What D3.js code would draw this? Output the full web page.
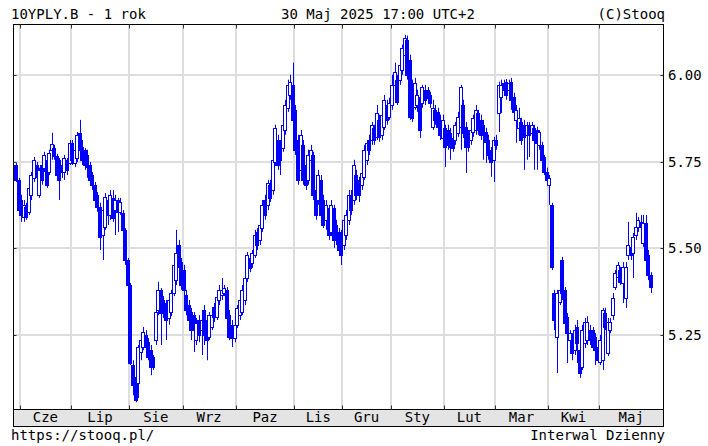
<!DOCTYPE html>
<html><head><meta charset="utf-8">
<script src="https://cdn.jsdelivr.net/npm/d3@7"></script>
<style>
html,body{margin:0;padding:0;background:#fff;}
svg{display:block;}
text{font-family:"DejaVu Sans Mono",monospace;font-size:14px;fill:#000;}
</style>
</head><body>
<svg id="c" width="708" height="446"></svg>
<script>
// ---- data ----
const titleLeft = "10YPLY.B - 1 rok";
const titleCenter = "30 Maj 2025 17:00 UTC+2";
const titleRight = "(C)Stooq";
const footerLeft = "https://stooq.pl/";
const footerRight = "Interwal Dzienny";
const monthNames = ["Sty","Lut","Mar","Kwi","Maj","Cze","Lip","Sie","Wrz","Paz","Lis","Gru"];
const yTicks = [5.25, 5.50, 5.75, 6.00];
const startDate = "2024-05-29";
const endDate = "2025-05-30";
const holidays = ["2024-05-30","2024-08-15","2024-11-01","2024-11-11","2024-12-24","2024-12-25","2024-12-26","2025-01-01","2025-01-06","2025-04-18","2025-04-21","2025-05-01"];

const open = [5.740,5.697,5.639,5.590,5.619,5.605,5.654,5.703,5.740,5.654,5.740,5.732,5.755,5.720,5.784,5.789,5.766,5.755,5.740,5.720,5.755,5.746,
5.804,5.746,5.760,5.833,5.792,5.784,5.769,5.740,5.711,5.683,5.654,5.619,5.538,5.561,5.639,5.596,5.645,5.610,5.639,5.605,5.602,5.553,5.466,
5.394,5.163,5.128,5.111,5.201,5.215,5.250,5.229,5.206,5.186,5.235,5.322,5.380,5.351,5.342,5.299,5.316,5.371,5.408,5.509,5.460,
5.437,5.365,5.336,5.316,5.307,5.235,5.293,5.264,5.322,5.293,5.244,5.273,5.330,5.302,5.351,5.365,5.371,5.380,5.307,5.279,5.241,
5.279,5.307,5.316,5.351,5.414,5.472,5.457,5.481,5.547,5.524,5.558,5.639,5.625,5.683,5.668,5.749,5.812,5.798,5.789,5.841,5.905,5.942,5.971,
5.899,5.812,5.726,5.798,5.740,5.697,5.755,5.769,5.668,5.639,5.697,5.639,5.582,5.616,5.547,5.616,5.567,5.547,5.538,
5.509,5.538,5.582,5.654,5.639,5.711,5.697,5.683,5.706,5.755,5.812,5.812,5.847,5.821,5.870,5.827,5.850,5.913,5.879,
5.913,5.971,5.986,5.986,6.014,6.058,6.101,6.043,5.971,5.908,5.913,5.937,5.919,5.957,5.957,5.942,5.850,5.899,5.893,5.870,5.818,
5.847,5.841,5.833,5.818,5.812,5.833,5.850,5.913,5.850,5.833,5.812,5.835,5.841,5.890,5.870,5.856,5.835,5.812,5.784,5.755,
5.812,5.890,5.937,5.977,5.980,5.957,5.980,5.937,5.870,5.847,5.864,5.856,5.827,5.856,5.833,5.847,5.841,5.798,5.798,5.763,5.720,
5.683,5.625,5.371,5.244,5.345,5.466,5.380,5.302,5.235,5.235,5.206,5.273,5.206,5.157,5.227,5.235,5.264,5.264,5.244,5.215,
5.172,5.177,5.313,5.198,5.264,5.307,5.388,5.417,5.437,5.400,5.356,5.481,5.504,5.486,5.538,5.561,5.576,5.515,5.573,5.481,5.423];

const high = [5.746,5.703,5.654,5.639,5.631,5.683,5.720,5.763,5.749,5.732,5.755,5.778,5.769,5.784,5.833,5.798,5.772,5.760,5.749,5.769,5.760,5.812,
5.812,5.789,5.835,5.870,5.812,5.789,5.784,5.749,5.720,5.691,5.662,5.631,5.625,5.659,5.654,5.668,5.668,5.654,5.645,5.645,5.610,5.558,5.472,
5.400,5.177,5.134,5.221,5.250,5.273,5.264,5.241,5.221,5.192,5.322,5.403,5.385,5.362,5.351,5.362,5.380,5.460,5.553,5.524,5.472,
5.452,5.380,5.351,5.328,5.316,5.299,5.307,5.299,5.336,5.307,5.316,5.322,5.342,5.371,5.394,5.414,5.394,5.388,5.322,5.293,5.293,
5.336,5.359,5.394,5.423,5.489,5.481,5.495,5.553,5.558,5.582,5.639,5.654,5.697,5.697,5.763,5.856,5.827,5.812,5.870,5.928,5.986,6.000,6.035,
5.913,5.827,5.841,5.812,5.755,5.784,5.798,5.778,5.683,5.726,5.711,5.654,5.639,5.625,5.639,5.625,5.582,5.558,5.553,
5.596,5.610,5.668,5.668,5.755,5.726,5.706,5.726,5.798,5.812,5.827,5.864,5.856,5.913,5.885,5.899,5.942,5.928,5.934,
6.000,6.035,6.000,6.043,6.087,6.115,6.113,6.058,5.986,5.991,5.957,5.945,5.971,5.971,5.965,5.951,5.928,5.913,5.905,5.885,5.885,
5.856,5.856,5.847,5.827,5.864,5.893,5.971,5.928,5.864,5.841,5.856,5.885,5.913,5.899,5.885,5.870,5.847,5.827,5.792,5.821,
5.827,5.980,5.986,5.986,5.988,5.986,5.991,5.948,5.913,5.905,5.876,5.870,5.864,5.864,5.864,5.856,5.850,5.841,5.807,5.769,5.732,
5.711,5.631,5.380,5.380,5.388,5.475,5.388,5.313,5.264,5.255,5.279,5.293,5.221,5.279,5.299,5.304,5.279,5.273,5.255,5.227,
5.250,5.328,5.328,5.299,5.299,5.371,5.437,5.460,5.446,5.460,5.460,5.576,5.515,5.544,5.602,5.590,5.596,5.596,5.596,5.495,5.431];

const low = [5.691,5.596,5.576,5.576,5.582,5.596,5.639,5.691,5.654,5.645,5.683,5.720,5.674,5.711,5.755,5.755,5.697,5.639,5.703,5.697,5.711,5.740,
5.740,5.734,5.749,5.769,5.740,5.726,5.703,5.683,5.668,5.625,5.605,5.495,5.466,5.553,5.567,5.582,5.576,5.538,5.547,5.596,5.538,5.452,5.380,
5.163,5.076,5.056,5.068,5.177,5.206,5.201,5.177,5.134,5.149,5.221,5.307,5.221,5.299,5.235,5.279,5.304,5.362,5.394,5.431,5.380,
5.365,5.307,5.279,5.235,5.201,5.221,5.229,5.192,5.221,5.177,5.235,5.264,5.287,5.293,5.336,5.351,5.362,5.287,5.235,5.215,5.229,
5.270,5.293,5.307,5.336,5.403,5.431,5.443,5.472,5.495,5.509,5.547,5.582,5.610,5.633,5.654,5.737,5.726,5.711,5.778,5.827,5.893,5.928,5.856,
5.769,5.683,5.711,5.683,5.668,5.683,5.740,5.639,5.582,5.625,5.582,5.558,5.553,5.524,5.535,5.501,5.509,5.481,5.452,
5.495,5.524,5.567,5.596,5.625,5.639,5.633,5.668,5.697,5.740,5.769,5.798,5.798,5.812,5.807,5.812,5.841,5.856,5.870,
5.899,5.957,5.913,5.971,6.000,6.043,5.986,5.870,5.864,5.899,5.893,5.818,5.905,5.913,5.922,5.905,5.841,5.856,5.835,5.812,5.807,
5.734,5.784,5.755,5.778,5.798,5.821,5.784,5.818,5.717,5.778,5.798,5.821,5.827,5.827,5.812,5.755,5.746,5.755,5.706,5.691,
5.784,5.835,5.890,5.942,5.928,5.942,5.899,5.885,5.804,5.827,5.798,5.726,5.755,5.763,5.821,5.726,5.726,5.784,5.746,5.711,5.683,
5.625,5.437,5.264,5.140,5.336,5.351,5.264,5.169,5.206,5.177,5.192,5.169,5.126,5.149,5.212,5.221,5.221,5.206,5.163,5.169,
5.163,5.149,5.264,5.189,5.255,5.293,5.380,5.408,5.394,5.342,5.328,5.466,5.466,5.414,5.524,5.547,5.553,5.504,5.429,5.408,5.371];

const close = [5.697,5.610,5.596,5.625,5.590,5.674,5.711,5.755,5.706,5.726,5.697,5.769,5.683,5.775,5.801,5.766,5.711,5.697,5.720,5.760,5.726,5.804,
5.755,5.784,5.827,5.784,5.755,5.740,5.734,5.697,5.683,5.639,5.619,5.532,5.610,5.648,5.596,5.654,5.587,5.639,5.605,5.633,5.553,5.466,5.394,
5.169,5.105,5.062,5.215,5.235,5.258,5.215,5.186,5.157,5.157,5.316,5.380,5.313,5.316,5.293,5.351,5.371,5.452,5.486,5.446,5.394,
5.380,5.322,5.293,5.264,5.264,5.284,5.250,5.293,5.250,5.235,5.307,5.307,5.302,5.359,5.380,5.380,5.385,5.299,5.244,5.241,5.279,
5.328,5.351,5.380,5.414,5.481,5.443,5.486,5.538,5.509,5.567,5.625,5.596,5.688,5.645,5.755,5.847,5.740,5.755,5.856,5.913,5.971,5.980,5.870,
5.784,5.697,5.827,5.697,5.683,5.769,5.784,5.654,5.596,5.711,5.596,5.567,5.625,5.538,5.625,5.524,5.524,5.495,5.481,
5.582,5.596,5.654,5.610,5.740,5.654,5.654,5.717,5.784,5.804,5.784,5.856,5.812,5.890,5.821,5.885,5.928,5.870,5.919,
5.971,6.009,5.922,6.029,6.078,6.107,6.000,5.879,5.876,5.977,5.942,5.841,5.965,5.928,5.934,5.919,5.905,5.870,5.850,5.827,5.870,
5.792,5.798,5.792,5.789,5.856,5.879,5.965,5.833,5.792,5.792,5.841,5.876,5.899,5.841,5.827,5.833,5.807,5.769,5.749,5.812,
5.798,5.971,5.971,5.957,5.942,5.977,5.928,5.893,5.899,5.876,5.812,5.821,5.856,5.827,5.856,5.812,5.804,5.835,5.755,5.720,5.697,
5.703,5.446,5.293,5.371,5.380,5.371,5.284,5.255,5.255,5.198,5.264,5.227,5.140,5.264,5.287,5.287,5.235,5.215,5.206,5.177,
5.235,5.322,5.273,5.287,5.287,5.356,5.429,5.452,5.403,5.446,5.446,5.509,5.481,5.532,5.561,5.582,5.561,5.573,5.466,5.423,5.388];

// ---- trading days (categories) ----
const parse = d3.utcParse("%Y-%m-%d"), fmt = d3.utcFormat("%Y-%m-%d");
const hol = new Set(holidays);
const dates = d3.utcDay.range(parse(startDate), d3.utcDay.offset(parse(endDate), 1))
  .filter(d => d.getUTCDay() !== 0 && d.getUTCDay() !== 6 && !hol.has(fmt(d)));
const data = dates.map((d, i) => ({d, i, o: open[i], h: high[i], l: low[i], c: close[i]}));

// ---- layout ----
const L = 13.5, R = 663.5, T = 24.5, B = 409.5, BB = 426.5;
const svg = d3.select("#c");
const x = d3.scaleLinear().domain([-1.063, 254.94]).range([L, R]);
const y = d3.scaleLinear().domain([5.035, 6.145]).range([B, T]);
const blue = "#0000ff";

// band below the plot
svg.append("rect").attr("x", L).attr("y", B).attr("width", R - L).attr("height", BB - B)
  .attr("fill", "#e4e4e4").attr("stroke", "#000").attr("stroke-width", 1);

// month boundaries
const monthStarts = [];
data.forEach((p, i) => { if (i > 0 && p.d.getUTCMonth() !== data[i-1].d.getUTCMonth()) monthStarts.push(i); });
const gx = monthStarts.map(i => x(i - 0.5));

const grid = svg.append("g");
gx.forEach(v => grid.append("line").attr("x1", Math.round(v)).attr("x2", Math.round(v))
  .attr("y1", T).attr("y2", B).attr("stroke", "#dedede").attr("stroke-width", 2));
yTicks.forEach(t => grid.append("line").attr("x1", L).attr("x2", R)
  .attr("y1", Math.round(y(t))).attr("y2", Math.round(y(t))).attr("stroke", "#dedede").attr("stroke-width", 2));

// candles
const cg = svg.append("g");
data.forEach(p => {
  const cx = Math.round(x(p.i)) + 0.5;
  cg.append("line").attr("x1", cx).attr("x2", cx).attr("y1", y(p.h)).attr("y2", y(p.l))
    .attr("stroke", blue).attr("stroke-width", 1);
});
data.forEach(p => {
  const px = Math.round(x(p.i));
  const top = Math.round(y(Math.max(p.o, p.c))), bot = Math.round(y(Math.min(p.o, p.c)));
  if (p.c > p.o) {
    cg.append("rect").attr("x", px - 1.5).attr("y", top + 0.5).attr("width", 3).attr("height", Math.max(1, bot - top))
      .attr("fill", "#fff").attr("stroke", blue).attr("stroke-width", 1);
  } else {
    cg.append("rect").attr("x", px - 2).attr("y", top).attr("width", 4).attr("height", Math.max(2, bot - top + 1))
      .attr("fill", blue);
  }
});

// frame
svg.append("rect").attr("x", L).attr("y", T).attr("width", R - L).attr("height", B - T)
  .attr("fill", "none").attr("stroke", "#000").attr("stroke-width", 1);

// ticks on top/bottom at month boundaries
gx.forEach(v => {
  const xv = Math.round(v) + 0.5;
  svg.append("line").attr("x1", xv).attr("x2", xv).attr("y1", T).attr("y2", T + 4).attr("stroke", "#333");
  svg.append("line").attr("x1", xv).attr("x2", xv).attr("y1", B - 4).attr("y2", B).attr("stroke", "#333");
});
// y ticks left/right
yTicks.forEach(t => {
  const yv = Math.round(y(t)) + 0.5;
  svg.append("line").attr("x1", L).attr("x2", L + 3).attr("y1", yv).attr("y2", yv).attr("stroke", "#333");
  svg.append("line").attr("x1", R - 3).attr("x2", R).attr("y1", yv).attr("y2", yv).attr("stroke", "#333");
  svg.append("text").attr("x", 668).attr("y", y(t)).attr("dy", "0.36em").text(d3.format(".2f")(t));
});

// month labels
const bounds = gx.concat([R]);
monthStarts.forEach((i, k) => {
  const cx = (bounds[k] + bounds[k + 1]) / 2;
  svg.append("text").attr("x", cx).attr("y", 422).attr("text-anchor", "middle")
    .text(monthNames[data[i].d.getUTCMonth()]);
});

// titles
svg.append("text").attr("x", 11).attr("y", 19).text(titleLeft);
svg.append("text").attr("x", 281).attr("y", 19).text(titleCenter);
svg.append("text").attr("x", 665).attr("y", 19).attr("text-anchor", "end").text(titleRight);
svg.append("text").attr("x", 11).attr("y", 440).text(footerLeft);
svg.append("text").attr("x", 665).attr("y", 440).attr("text-anchor", "end").text(footerRight);
</script>
</body></html>
